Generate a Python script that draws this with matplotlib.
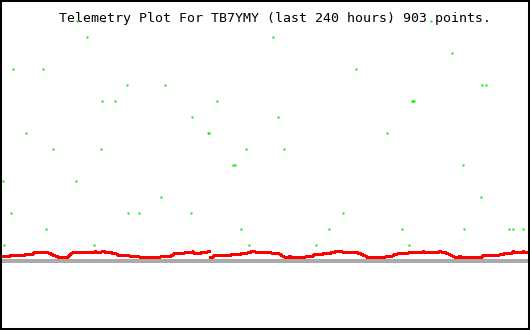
"""Telemetry plot for TB7YMY: last 240 hours, scattered level readings
(green) over a slowly varying trace (red), on a plain framed canvas."""
import numpy as np
import matplotlib
matplotlib.use("Agg")
import matplotlib.pyplot as plt
from matplotlib.patches import Rectangle

TITLE = "Telemetry Plot For TB7YMY (last 240 hours) 903 points."
HOURS_SPAN = 240

# red trace: hours / value (NaN = break in the log)
RED_HOURS = [
    0.46, 3.64, 4.10, 10.47, 10.93, 14.57, 15.03, 21.40, 22.31, 24.59,
    26.87, 30.06, 31.42, 32.79, 41.90, 43.26, 44.17, 46.45, 49.64, 52.37,
    53.74, 58.29, 59.20, 62.85, 63.76, 71.95, 72.86, 76.51, 77.87, 78.78,
    82.88, 83.79, 86.53, 87.44, np.nan, 88.35, 90.62, 91.08, 93.36, 94.27,
    94.72, np.nan, 95.63, 96.54, 97.00, 104.29, 104.74, 108.84, 109.30, 111.57,
    112.48, 114.31, 115.67, 116.58, 117.49, 119.77, 120.68, 122.96, 123.87, 126.60,
    127.97, 129.79, 131.61, 132.98, 137.99, 138.90, 141.63, 142.54, 146.18, 147.09,
    149.37, 150.74, 152.56, 155.29, 156.20, 162.12, 163.49, 165.77, 167.13, 174.42,
    175.33, 177.61, 179.43, 181.25, 184.89, 185.80, 191.27, 192.18, 193.55, 198.55,
    199.92, 202.20, 203.56, 205.38, 207.21, 209.03, 210.39, 218.59, 219.50, 225.88,
    227.70, 229.98, 232.25, 233.16, 234.53, 236.81, 237.72, 239.09, 240.00,
]
RED_VALUES = [
    0.25, 0.25, 0.31, 0.31, 0.38, 0.38, 0.50, 0.50, 0.44, 0.31,
    0.19, 0.19, 0.38, 0.50, 0.50, 0.56, 0.50, 0.56, 0.50, 0.44,
    0.31, 0.31, 0.25, 0.25, 0.19, 0.19, 0.25, 0.25, 0.31, 0.44,
    0.44, 0.50, 0.50, 0.56, np.nan, 0.44, 0.44, 0.50, 0.50, 0.56,
    0.56, np.nan, 0.19, 0.19, 0.31, 0.31, 0.38, 0.38, 0.44, 0.44,
    0.50, 0.56, 0.56, 0.50, 0.50, 0.50, 0.50, 0.50, 0.44, 0.44,
    0.31, 0.19, 0.25, 0.19, 0.19, 0.25, 0.25, 0.38, 0.38, 0.44,
    0.44, 0.50, 0.56, 0.56, 0.50, 0.50, 0.44, 0.31, 0.19, 0.19,
    0.25, 0.25, 0.38, 0.44, 0.44, 0.50, 0.50, 0.56, 0.50, 0.50,
    0.56, 0.50, 0.44, 0.31, 0.19, 0.25, 0.19, 0.19, 0.31, 0.31,
    0.38, 0.44, 0.44, 0.56, 0.50, 0.50, 0.56, 0.50, 0.50,
]

# green readings: hours / integer level
GREEN_HOURS = [
    34.75, 46.91, 177.15, 195.69,
    39.30, 123.73,
    205.52,
    5.60, 19.26, 161.80,
    57.52, 74.82, 219.19, 221.01,
    46.13, 52.05, 98.50, 187.31, 187.77, 188.22,
    87.12, 126.28,
    11.52, 94.27, 94.72, 175.92,
    23.82, 45.68, 111.71, 129.02,
    105.88, 106.34, 210.53,
    1.05, 34.29,
    73.00, 218.73,
    4.69, 57.97, 62.98, 86.66, 155.89,
    20.63, 109.43, 149.51, 182.75, 210.99, 231.48, 233.30, 237.86,
    1.50, 42.49, 113.07, 143.59, 185.94,
]
GREEN_LEVELS = [
    15, 15, 15, 15,
    14, 14,
    13,
    12, 12, 12,
    11, 11, 11, 11,
    10, 10, 10, 10, 10, 10,
    9, 9,
    8, 8, 8, 8,
    7, 7, 7, 7,
    6, 6, 6,
    5, 5,
    4, 4,
    3, 3, 3, 3, 3,
    2, 2, 2, 2, 2, 2, 2, 2,
    1, 1, 1, 1, 1,
]

C_RED = "#ff0000"
C_GREEN = "#00ee00"
C_BASE = "#aaaaaa"

# 1 px wide, 2 px tall dot
DOT = [(-0.25, -0.5), (0.25, -0.5), (0.25, 0.5), (-0.25, 0.5), (-0.25, -0.5)]


def main():
    fig = plt.figure(figsize=(5.30, 3.30), dpi=100)
    fig.patch.set_facecolor("white")
    ax = fig.add_axes([0, 0, 1, 1])
    ax.set_axis_off()

    # canvas: hour 0 at px 1, hour 240 at px 528; level step = 16 px
    ppx = HOURS_SPAN / 527.0
    ax.set_xlim(-1 * ppx, 529 * ppx)
    ax.set_ylim((260.7 - 330) / 16.0, 260.7 / 16.0)

    ax.plot([0, HOURS_SPAN], [0, 0], color=C_BASE, lw=1.5,
            solid_capstyle="butt", antialiased=False, zorder=1)
    ax.plot(RED_HOURS, RED_VALUES, color=C_RED, lw=1.5,
            antialiased=False, zorder=2)
    ax.plot(GREEN_HOURS, GREEN_LEVELS, ls="none", marker=DOT, ms=1.6,
            mfc=C_GREEN, mec="none", antialiased=False, zorder=3)

    fig.text(59 / 530, 1 - 22 / 330, TITLE, ha="left", va="baseline",
             family="DejaVu Sans Mono", fontsize=9.55, color="black",
             zorder=5)

    fig.patches.append(Rectangle((0, 0), 1, 1, transform=fig.transFigure,
                                 fill=False, ec="black", lw=2.9,
                                 zorder=10))

    fig.savefig("out.png", dpi=100)


if __name__ == "__main__":
    main()
